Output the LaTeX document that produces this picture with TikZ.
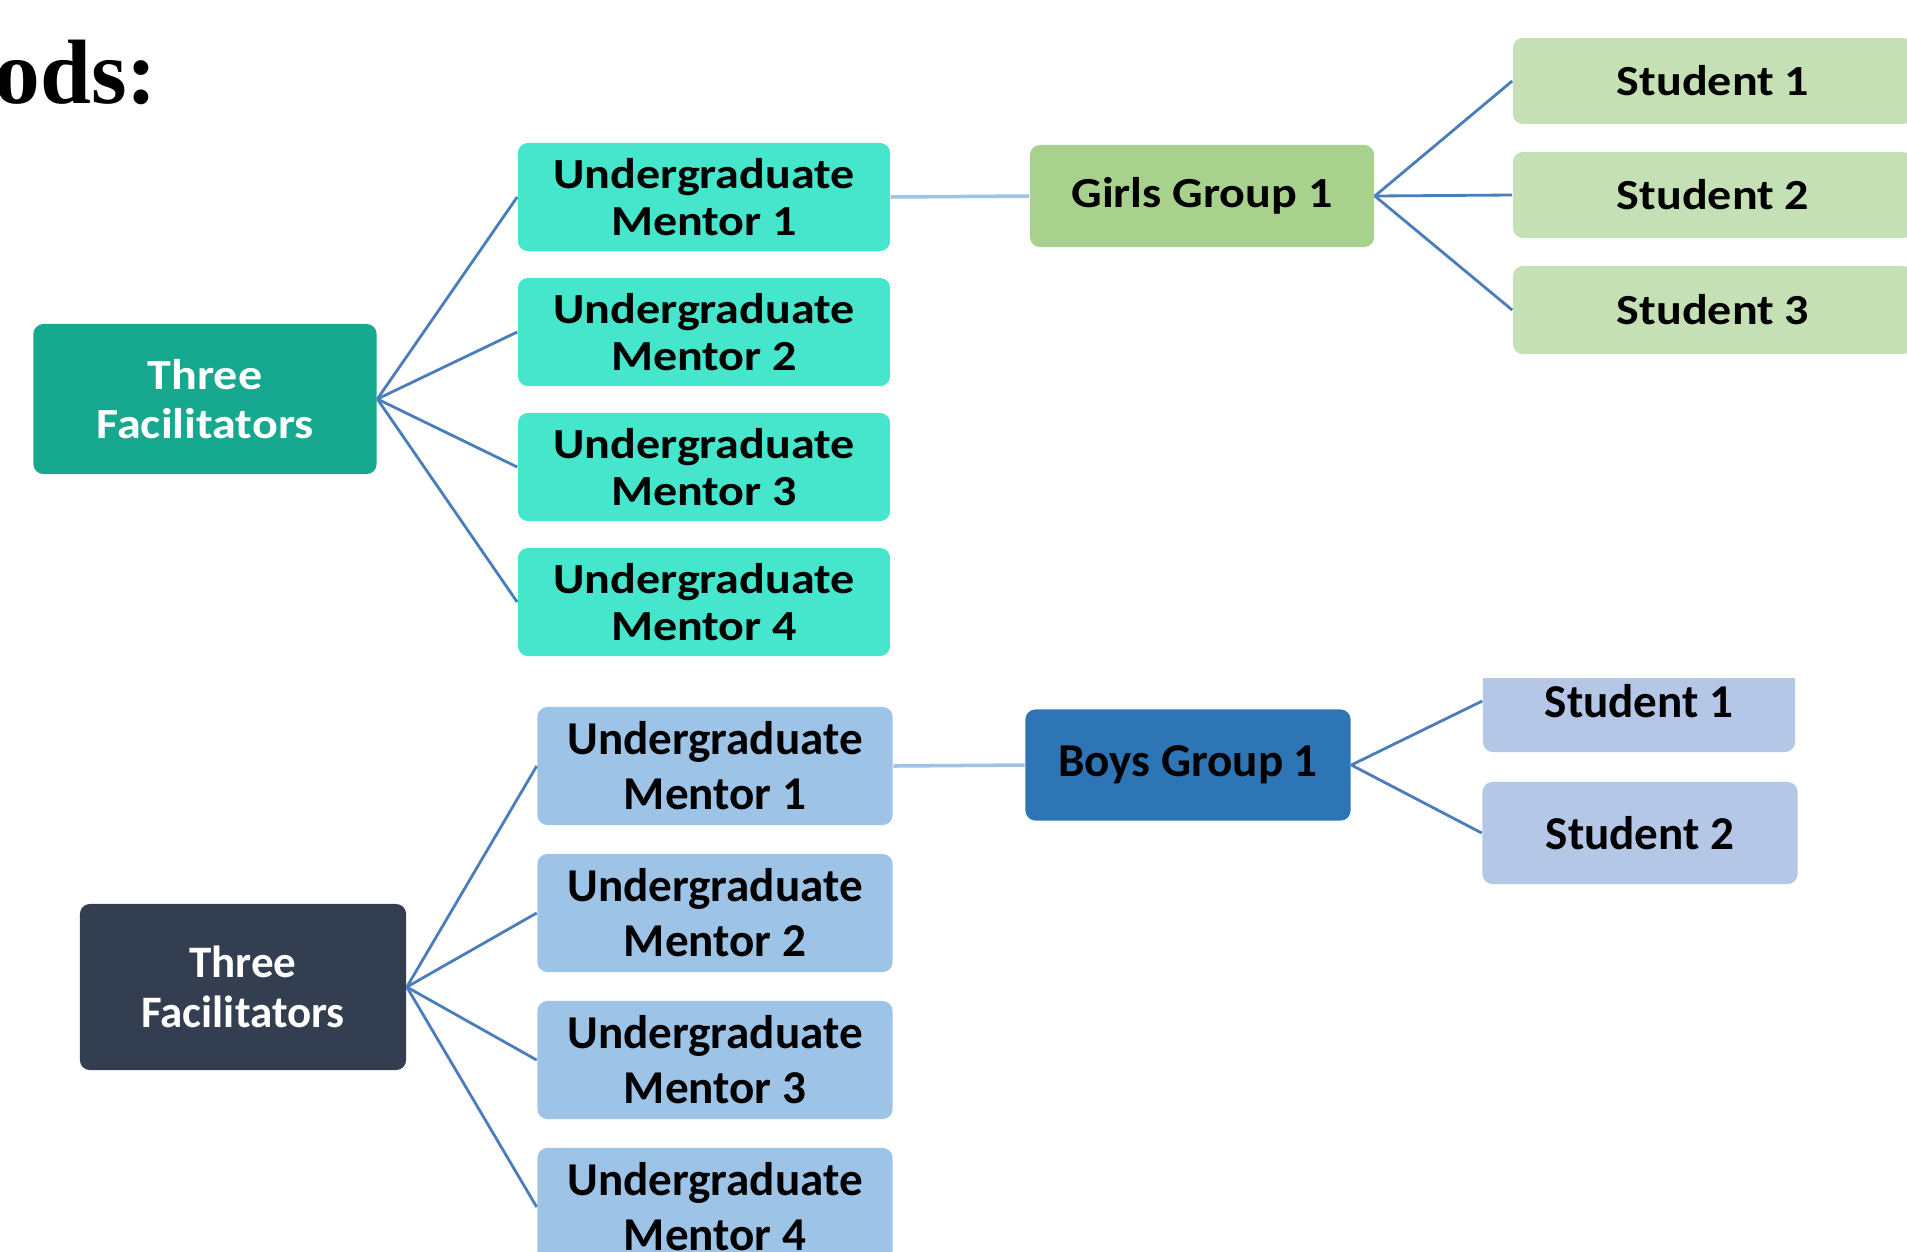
\documentclass[tikz,border=0pt]{standalone}
\usepackage{fontspec}
\setmainfont{Carlito}
\newfontfamily\widefont[FakeStretch=1.12]{Carlito}
\newfontfamily\headfont{Liberation Serif}

\definecolor{facilteal}{RGB}{22,169,143}
\definecolor{mentorteal}{RGB}{69,230,203}
\definecolor{girlsgreen}{RGB}{169,209,142}
\definecolor{studgreen}{RGB}{197,224,180}
\definecolor{facilslate}{RGB}{51,63,80}
\definecolor{mentorblue}{RGB}{157,195,230}
\definecolor{boysblue}{RGB}{46,117,182}
\definecolor{studblue}{RGB}{180,199,231}
\definecolor{linkblue}{RGB}{74,126,187}
\definecolor{linklight}{RGB}{157,195,230}

\begin{document}
\begin{tikzpicture}[x=0.01cm,y=-0.01cm]
        \tikzstyle{every node}=[rounded corners=0.1cm,inner sep=0pt,align=center]
        \tikzstyle{upper}=[font=\widefont\bfseries\fontsize{12.2pt}{13.4pt}\selectfont]
        \tikzstyle{lower}=[font=\bfseries\fontsize{13.4pt}{15.6pt}\selectfont]
        \tikzstyle{link}=[draw=linkblue,line width=0.8pt]
        \tikzstyle{linkpale}=[draw=linklight,line width=1pt]
        \useasboundingbox (0,0) rectangle (1907,1251);

        \node[anchor=base west,font=\headfont\bfseries\fontsize{26pt}{30pt}\selectfont,rounded corners=0pt] (title) at (-6,103) {ods:};

        % girls side
        \node[upper,fill=facilteal,text=white,minimum width=3.43cm,minimum height=1.50cm,font=\widefont\bfseries\fontsize{12.2pt}{13.9pt}\selectfont] (tfa) at (205,399) {Three\\Facilitators};
        \node[upper,fill=mentorteal,minimum width=3.72cm,minimum height=1.08cm] (uma1) at (704,197) {Undergraduate\\Mentor 1};
        \node[upper,fill=mentorteal,minimum width=3.72cm,minimum height=1.08cm] (uma2) at (704,332) {Undergraduate\\Mentor 2};
        \node[upper,fill=mentorteal,minimum width=3.72cm,minimum height=1.08cm] (uma3) at (704,467) {Undergraduate\\Mentor 3};
        \node[upper,fill=mentorteal,minimum width=3.72cm,minimum height=1.08cm] (uma4) at (704,602) {Undergraduate\\Mentor 4};
        \node[upper,fill=girlsgreen,minimum width=3.44cm,minimum height=1.02cm] (girls) at (1202,196) {Girls Group 1};
        \node[upper,fill=studgreen,minimum width=4.00cm,minimum height=0.86cm] (sga1) at (1713,81) {Student 1};
        \node[upper,fill=studgreen,minimum width=4.00cm,minimum height=0.86cm] (sga2) at (1713,195) {Student 2};
        \node[upper,fill=studgreen,minimum width=4.00cm,minimum height=0.88cm] (sga3) at (1713,310) {Student 3};

        \foreach \i in {1,...,4} \draw[link] (tfa.east) -- (uma\i.west);
        \draw[linkpale] (uma1.east) -- (girls.west);
        \foreach \i in {1,2,3} \draw[link] (girls.east) -- (sga\i.west);

        % boys side
        \node[lower,fill=facilslate,text=white,minimum width=3.26cm,minimum height=1.66cm,font=\bfseries\fontsize{12.8pt}{14.2pt}\selectfont] (tfb) at (243,987) {Three\\Facilitators};
        \node[lower,fill=mentorblue,minimum width=3.55cm,minimum height=1.18cm] (umb1) at (715,766) {Undergraduate\\Mentor 1};
        \node[lower,fill=mentorblue,minimum width=3.55cm,minimum height=1.18cm] (umb2) at (715,913) {Undergraduate\\Mentor 2};
        \node[lower,fill=mentorblue,minimum width=3.55cm,minimum height=1.18cm] (umb3) at (715,1060) {Undergraduate\\Mentor 3};
        \node[lower,fill=mentorblue,minimum width=3.55cm,minimum height=1.18cm] (umb4) at (715,1207) {Undergraduate\\Mentor 4};
        \node[lower,fill=boysblue,minimum width=3.25cm,minimum height=1.11cm] (boys) at (1188,765) {Boys Group 1};
        \begin{scope}
            \clip (1400,678) rectangle (1850,800);
            \node[lower,fill=studblue,minimum width=3.12cm,minimum height=1.02cm] (sgb1) at (1639,701) {Student 1};
        \end{scope}
        \node[lower,fill=studblue,minimum width=3.15cm,minimum height=1.02cm] (sgb2) at (1640,833) {Student 2};

        \foreach \i in {1,...,4} \draw[link] (tfb.east) -- (umb\i.west);
        \draw[linkpale] (umb1.east) -- (boys.west);
        \foreach \i in {1,2} \draw[link] (boys.east) -- (sgb\i.west);
    \end{tikzpicture}
\end{document}
